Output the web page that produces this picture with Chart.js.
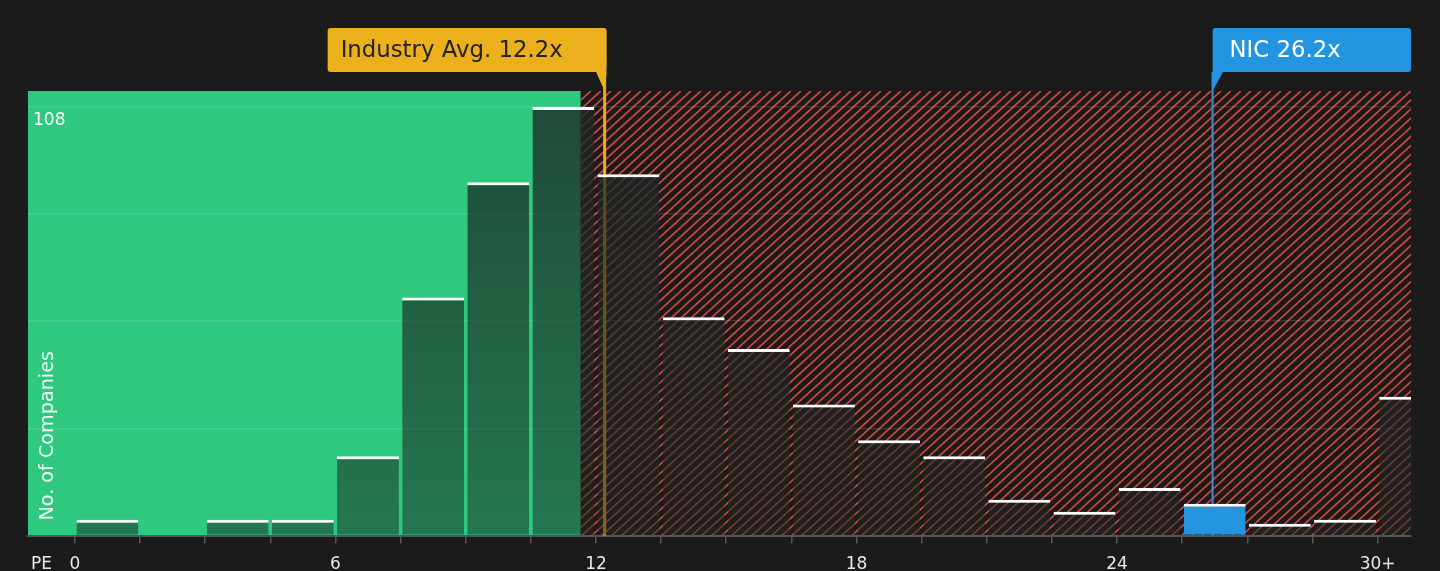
<!DOCTYPE html>
<html>
<head>
<meta charset="utf-8">
<title>PE distribution</title>
<script src="https://cdn.jsdelivr.net/npm/chart.js@4.4.1/dist/chart.umd.min.js"></script>
<style>
  html, body { margin: 0; padding: 0; background: #1b1b1b; }
  #wrap { position: relative; width: 1440px; height: 571px; }
</style>
</head>
<body>
<div id="wrap"><canvas id="pe"></canvas></div>
<script>
// PE bins (start of each 1.5 wide bin, last one is 30+)
const binStarts = [0, 1.5, 3, 4.5, 6, 7.5, 9, 10.5, 12, 13.5, 15, 16.5, 18, 19.5, 21, 22.5, 24, 25.5, 27, 28.5, 30]
const companies = [4, 0, 4, 4, 20, 60, 89, 108, 91, 55, 47, 33, 24, 20, 9, 6, 12, 8, 3, 4, 35]
const peTicks = [0, 1.5, 3, 4.5, 6, 7.5, 9, 10.5, 12, 13.5, 15, 16.5, 18, 19.5, 21, 22.5, 24, 25.5, 27, 28.5, 30]
const peLabels = { 0: '0', 6: '6', 12: '12', 18: '18', 24: '24', 30: '30+' }
const countTicks = [0, 27, 54, 81, 108]
const countLabel = 108
const industryAvg = 12.2
const companyPE = 26.2
const companyName = 'NIC'
const goodUpTo = 11.65

const FONT = '"DejaVu Sans", sans-serif'
Chart.defaults.font.family = FONT

const binWidth = 1.5
const barData = binStarts.map((b, i) => ({ x: b + binWidth / 2, y: companies[i] }))

// background zones: green up to the good value, red hatch after
const zones = {
  id: 'zones',
  beforeDraw(chart) {
    const { ctx, chartArea: a, scales: { x } } = chart
    const split = x.getPixelForValue(goodUpTo)
    const h = a.bottom - a.top
    ctx.save()
    ctx.fillStyle = '#2ec87f'
    ctx.fillRect(a.left, a.top, split - a.left, h)
    ctx.fillStyle = '#1c1919'
    ctx.fillRect(split, a.top, a.right - split, h)
    ctx.beginPath()
    ctx.rect(split, a.top, a.right - split, h)
    ctx.clip()
    ctx.strokeStyle = '#c84844'
    ctx.lineWidth = 1.7
    ctx.beginPath()
    const run = h * 1.1
    for (let s = split - run; s < a.right + 10; s += 10) {
      ctx.moveTo(s, a.bottom)
      ctx.lineTo(s + run, a.top)
    }
    ctx.stroke()
    ctx.restore()
  }
}

// marker lines go under the bars
const markers = {
  id: 'markers',
  beforeDatasetsDraw(chart) {
    const { ctx, chartArea: a, scales: { x } } = chart
    const xi = x.getPixelForValue(industryAvg)
    const xc = x.getPixelForValue(companyPE)
    ctx.save()
    ctx.strokeStyle = '#f0aa1c'
    ctx.lineWidth = 3
    ctx.beginPath(); ctx.moveTo(xi, a.top - 19); ctx.lineTo(xi, a.bottom); ctx.stroke()
    ctx.strokeStyle = '#3a8fd6'
    ctx.lineWidth = 2
    ctx.beginPath(); ctx.moveTo(xc, a.top - 19); ctx.lineTo(xc, a.bottom); ctx.stroke()
    ctx.restore()
  }
}

function roundBox(ctx, l, t, w, h, r) {
  ctx.beginPath()
  ctx.moveTo(l + r, t)
  ctx.lineTo(l + w - r, t); ctx.quadraticCurveTo(l + w, t, l + w, t + r)
  ctx.lineTo(l + w, t + h - r); ctx.quadraticCurveTo(l + w, t + h, l + w - r, t + h)
  ctx.lineTo(l + r, t + h); ctx.quadraticCurveTo(l, t + h, l, t + h - r)
  ctx.lineTo(l, t + r); ctx.quadraticCurveTo(l, t, l + r, t)
  ctx.closePath()
  ctx.fill()
}

// labels, boxes, axis title
const labels = {
  id: 'labels',
  afterDraw(chart) {
    const { ctx, chartArea: a, scales: { x, y } } = chart
    const xi = x.getPixelForValue(industryAvg)
    const xc = x.getPixelForValue(companyPE)
    const top = a.top - 63, bh = 44
    ctx.save()
    // industry box
    ctx.fillStyle = '#ebb01b'
    const ir = xi + 2, il = ir - 279
    roundBox(ctx, il, top, ir - il, bh, 3)
    ctx.beginPath(); ctx.moveTo(ir - 11, top + bh - 1); ctx.lineTo(ir, top + bh - 1); ctx.lineTo(xi, a.top); ctx.closePath(); ctx.fill()
    ctx.fillStyle = '#222222'
    ctx.font = '22.8px ' + FONT
    ctx.textBaseline = 'middle'
    ctx.textAlign = 'left'
    ctx.fillText('Industry Avg. ' + industryAvg + 'x', il + 13, top + bh / 2 + 1)
    // company box
    ctx.fillStyle = '#2394e0'
    const cl = xc, cr = a.right
    roundBox(ctx, cl, top, cr - cl, bh, 3)
    ctx.beginPath(); ctx.moveTo(cl, top + bh - 1); ctx.lineTo(cl + 11, top + bh - 1); ctx.lineTo(cl, a.top); ctx.closePath(); ctx.fill()
    ctx.fillStyle = '#ffffff'
    ctx.fillText(companyName + ' ' + companyPE + 'x', cl + 17, top + bh / 2 + 1)
    // top count label
    ctx.font = '17px ' + FONT
    ctx.fillText(String(countLabel), a.left + 5, y.getPixelForValue(countLabel) + 14)
    // y axis title
    ctx.font = '19.2px ' + FONT
    ctx.fillStyle = 'rgba(255,255,255,0.92)'
    ctx.translate(a.left + 20, a.bottom - 15)
    ctx.rotate(-Math.PI / 2)
    ctx.textAlign = 'left'
    ctx.fillText('No. of Companies', 0, 0)
    ctx.restore()
    // PE label
    ctx.save()
    ctx.font = '17px ' + FONT
    ctx.fillStyle = '#e8e8e8'
    ctx.textBaseline = 'middle'
    ctx.fillText('PE', 31, a.bottom + 29)
    ctx.restore()
  }
}

const ctx = document.getElementById('pe')
const peChart = new Chart(ctx, {
  type: 'bar',
  data: {
    datasets: [
      {
        data: barData,
        categoryPercentage: 1,
        barPercentage: 0.95,
        borderColor: '#ffffff',
        borderWidth: { top: 3, left: 0, right: 0, bottom: 0 },
        borderSkipped: 'bottom',
        backgroundColor: (c) => {
          const p = c.raw
          if (p && companyPE >= p.x - binWidth / 2 && companyPE < p.x + binWidth / 2) return '#2394e0'
          const area = c.chart.chartArea
          if (!area) return 'rgba(28,40,36,0.8)'
          const g = c.chart.ctx.createLinearGradient(0, area.top, 0, area.bottom)
          g.addColorStop(0, 'rgba(28,40,36,0.8)')
          g.addColorStop(1, 'rgba(28,40,36,0.5)')
          return g
        }
      }
    ]
  },
  options: {
    responsive: true,
    maintainAspectRatio: false,
    animation: false,
    layout: { padding: { top: 91, left: 28, right: 29, bottom: -15 } },
    plugins: { legend: { display: false }, tooltip: { enabled: false } },
    scales: {
      x: {
        type: 'linear',
        offset: false,
        min: -1.08,
        max: 30.77,
        afterBuildTicks: (s) => { s.ticks = peTicks.map(v => ({ value: v })) },
        ticks: {
          autoSkip: false,
          maxRotation: 0,
          color: '#e8e8e8',
          font: { size: 17 },
          padding: 11,
          callback: (v) => peLabels[v] ?? ''
        },
        grid: { offset: false, drawOnChartArea: false, drawTicks: true, tickLength: 8, color: '#555555', lineWidth: 1.5 },
        border: { display: true, color: '#555555', width: 2 }
      },
      y: {
        min: 0,
        max: 112,
        afterBuildTicks: (s) => { s.ticks = countTicks.map(v => ({ value: v })) },
        ticks: { display: false },
        grid: { drawTicks: false, color: 'rgba(255,255,255,0.12)', lineWidth: 1.5 },
        border: { display: false }
      }
    }
  },
  plugins: [zones, markers, labels]
})
</script>
</body>
</html>
